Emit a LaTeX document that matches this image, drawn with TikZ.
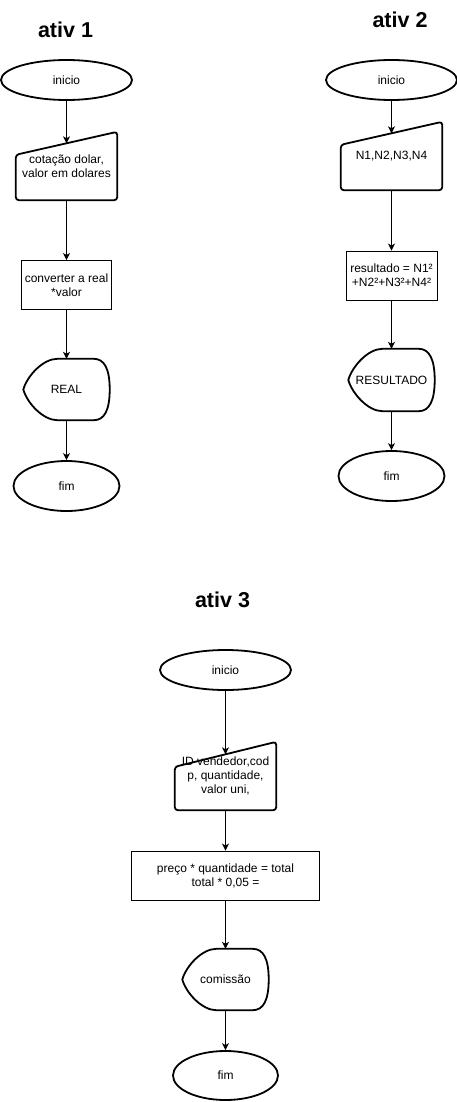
\documentclass[tikz,border=0pt]{standalone}
\usepackage{fontspec}
\setmainfont{Liberation Sans}
\usepackage{tikz}
\usetikzlibrary{shapes.geometric, arrows.meta, calc}
\tikzstyle{arrow} = [line width=0.9pt,-{Stealth[length=7pt,width=7pt,inset=2pt]}]
\tikzstyle{title} = [anchor=base, font=\fontsize{21.5}{24}\selectfont\bfseries]
\tikzstyle{term} = [ellipse, draw, line width=1.8pt, inner sep=0pt, font=\fontsize{12}{14}\selectfont]
\tikzstyle{proc} = [rectangle, draw, line width=0.9pt, inner sep=0pt, minimum height=49, align=center, font=\fontsize{12}{14}\selectfont]
\tikzstyle{iobox} = [rectangle, inner sep=0pt, minimum width=101, minimum height=68, align=center, font=\fontsize{12}{14}\selectfont]
\tikzstyle{dispbox} = [rectangle, inner sep=0pt, minimum width=86, minimum height=61, align=center, font=\fontsize{12}{14}\selectfont]

% outline of a manual input around a node
\newcommand{\manshape}[2]{%
  \draw[line width=1.8pt, rounded corners=3pt] ($(#1.north west)+(0,#2)$) -- (#1.north east)
    -- (#1.south east) -- (#1.south west) -- cycle;}
% outline of a display around a node
\newcommand{\dispshape}[1]{%
  \draw[line width=1.8pt] (#1.west) .. controls +(4,-14) and +(-14,0) .. ($(#1.north west)+(34,0)$)
    -- ($(#1.north east)+(-16,0)$) .. controls +(10.7,0) and +(0,-20.7) .. (#1.east)
    .. controls +(0,20.7) and +(10.7,0) .. ($(#1.south east)+(-16,0)$)
    -- ($(#1.south west)+(34,0)$) .. controls +(-14,0) and +(4,14) .. (#1.west) -- cycle;}

\begin{document}
\begin{tikzpicture}[x=1pt, y=-1pt]
    \useasboundingbox (0,0) rectangle (457,1102);

    % ativ 1
    \node[title] (t1) at (65.5,38) {ativ 1};
    \node[term, minimum width=131, minimum height=40] (i1) at (66.5,80) {inicio};
    \node[iobox] (m1) at (66.5,166) {cotação dolar,\\valor em dolares};
    \node[proc, minimum width=90] (p1) at (66.5,285) {converter a real\\*valor};
    \node[dispbox] (d1) at (66.5,389.5) {REAL};
    \node[term, minimum width=106, minimum height=50] (f1) at (66.5,486) {fim};
    \manshape{m1}{23}
    \dispshape{d1}
    \coordinate (m1in) at ($(m1.north)+(0,11.5)$);
    \draw[arrow] (i1) -- (m1in);
    \draw[arrow] (m1) -- (p1);
    \draw[arrow] (p1) -- (d1);
    \draw[arrow] (d1) -- (f1);

    % ativ 2
    \node[title] (t2) at (400,28) {ativ 2};
    \node[term, minimum width=131, minimum height=40] (i2) at (391.5,80) {inicio};
    \node[iobox] (m2) at (391.5,156) {N1,N2,N3,N4};
    \node[proc, minimum width=91] (p2) at (391.5,275.5) {resultado = N1²\\+N2²+N3²+N4²};
    \node[dispbox, minimum height=62] (d2) at (391.5,380) {RESULTADO};
    \node[term, minimum width=106, minimum height=50] (f2) at (391.5,476) {fim};
    \manshape{m2}{23}
    \dispshape{d2}
    \coordinate (m2in) at ($(m2.north)+(0,11.5)$);
    \draw[arrow] (i2) -- (m2in);
    \draw[arrow] (m2) -- (p2);
    \draw[arrow] (p2) -- (d2);
    \draw[arrow] (d2) -- (f2);

    % ativ 3
    \node[title] (t3) at (222.5,607) {ativ 3};
    \node[term, minimum width=131, minimum height=40] (i3) at (225.5,670) {inicio};
    \node[iobox] (m3) at (225.5,776) {ID vendedor,cod\\p, quantidade,\\valor uni,};
    \node[proc, minimum width=188] (p3) at (225.5,875.5) {preço * quantidade = total\\total * 0,05 =};
    \node[dispbox] (d3) at (225.5,979.5) {comissão};
    \node[term, minimum width=105, minimum height=49] (f3) at (225.5,1075.5) {fim};
    \manshape{m3}{25}
    \dispshape{d3}
    \coordinate (m3in) at ($(m3.north)+(0,12.5)$);
    \draw[arrow] (i3) -- (m3in);
    \draw[arrow] (m3) -- (p3);
    \draw[arrow] (p3) -- (d3);
    \draw[arrow] (d3) -- (f3);
\end{tikzpicture}
\end{document}
